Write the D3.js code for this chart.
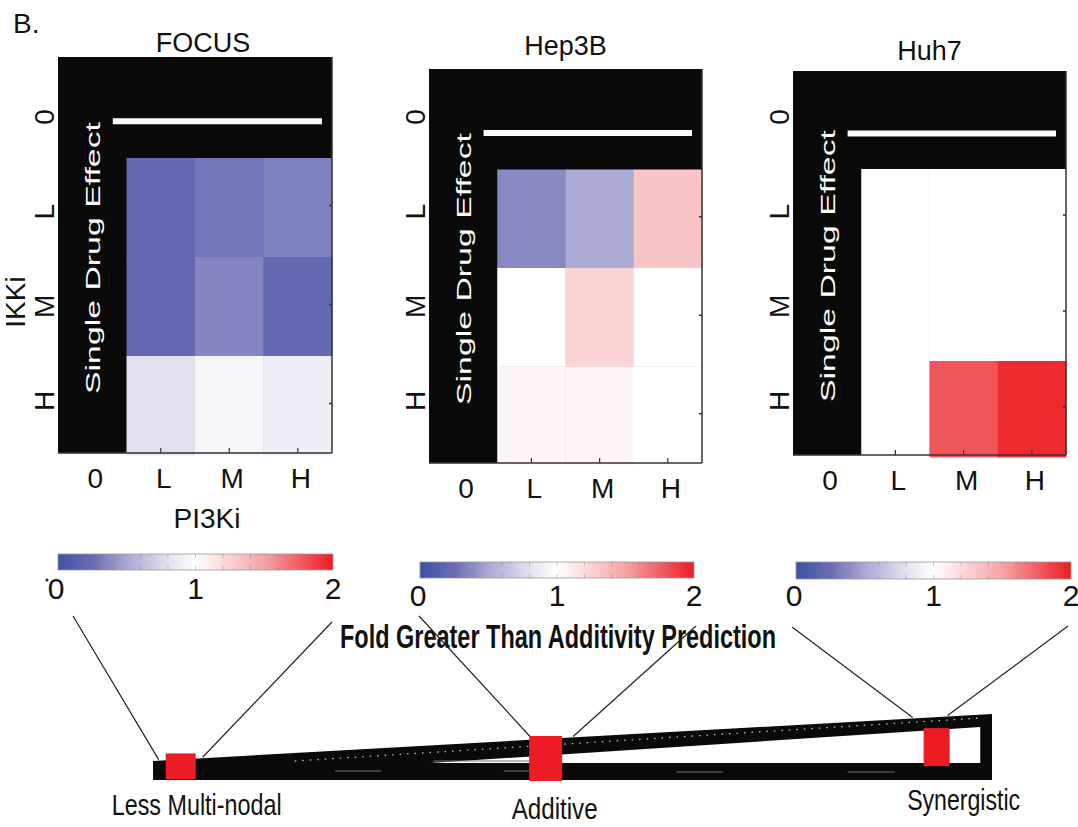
<!DOCTYPE html>
<html><head><meta charset="utf-8">
<script src="https://cdn.jsdelivr.net/npm/d3@7"></script>
<style>
body{margin:0;background:#fff}
svg{display:block}
text{font-family:"Liberation Sans Narrow","Liberation Sans",Arial,sans-serif;fill:#111}
</style></head><body>
<svg id="chart" width="1078" height="827"></svg>
<script>
// ---------------- data ----------------
const cellLines = ["FOCUS", "Hep3B", "Huh7"];
const doseLevels = ["0", "L", "M", "H"];
const comboDoses = ["L", "M", "H"];
// fold greater than additivity prediction; rows = IKKi dose (L,M,H), cols = PI3Ki dose (L,M,H)
const focusValues = [[0.21, 0.29, 0.33], [0.21, 0.36, 0.21], [0.80, 0.94, 0.89]];
const hep3bValues = [[0.37, 0.52, 1.32], [1.00, 1.24, 1.00], [1.05, 1.05, 1.00]];
const huh7Values  = [[1.00, 1.00, 1.00], [1.00, 1.00, 1.00], [1.00, 1.79, 1.95]];
const colorStops = [0, 0.25, 0.5, 0.75, 1, 1.5, 2];
const colorStopColors = ["#3d52a3", "#6a6cb3", "#a8a7d3", "#d9d8ec", "#ffffff", "#f5a3a6", "#ed1c24"];
const colorbarTicks = [0, 1, 2];
const colorbarMinorTicks = [0.2, 0.4, 0.6, 0.8, 1.0, 1.2, 1.4, 1.6, 1.8];
const spectrumLabels = ["Less Multi-nodal", "Additive", "Synergistic"];
const spectrumPosition = [0.033, 0.468, 0.934];
const xAxisTitle = "PI3Ki";
const yAxisTitle = "IKKi";
const singleDrugLabel = "Single Drug Effect";
const colorbarTitle = "Fold Greater Than Additivity Prediction";
const panelLabel = "B.";

const panelValues = [focusValues, hep3bValues, huh7Values];

// ---------------- layout ----------------
const panelLayout = [
  {x0: 58,  x1: 332,  y0: 57, y1: 453, titleBase: 52},
  {x0: 429, x1: 702,  y0: 69, y1: 463, titleBase: 55},
  {x0: 793, x1: 1066, y0: 71, y1: 455, titleBase: 60}
];
const cbLayout = [
  {x0: 58,  x1: 333,  y0: 554, y1: 570, labBase: 599, lStart: [73, 616],  rStart: [332, 622]},
  {x0: 420, x1: 694,  y0: 562, y1: 578, labBase: 606, lStart: [419, 616], rStart: [696, 626]},
  {x0: 796, x1: 1071, y0: 562, y1: 579, labBase: 606, lStart: [792, 627], rStart: [1068, 626]}
];
const markerLayout = [
  {w: 30, dy: -6, h: 26, lEnd: -7,  rEnd: 7,  labDx: 16, labBase: 815, labLen: 170},
  {w: 33, dy: -3, h: 45, lEnd: 3,   rEnd: 11, labDx: 9,  labBase: 819, labLen: 86},
  {w: 26, dy: 11, h: 38, lEnd: -11, rEnd: -2, labDx: 27, labBase: 810, labLen: 113}
];

const svg = d3.select("#chart");
const color = d3.scaleLinear().domain(colorStops).range(colorStopColors).clamp(true);
const yLabelScale = d3.scalePoint().domain(doseLevels).range([117, 401]);
const BLACK = "#0a0a0a";

svg.append("text").attr("x", 13).attr("y", 33).attr("font-size", 28).text(panelLabel);

panelLayout.forEach((L, i) => {
  const g = svg.append("g");
  const x = d3.scaleBand().domain(doseLevels).range([L.x0, L.x1]);
  const y = d3.scaleBand().domain(doseLevels).range([L.y0, L.y1]);
  const bw = x.bandwidth(), bh = y.bandwidth();

  g.append("rect").attr("x", L.x0).attr("y", L.y0)
    .attr("width", L.x1 - L.x0).attr("height", L.y1 - L.y0).attr("fill", BLACK);

  const cells = [];
  panelValues[i].forEach((row, r) => row.forEach((v, c) =>
    cells.push({row: comboDoses[r], col: comboDoses[c], v})));
  g.selectAll("rect.cell").data(cells).join("rect").attr("class", "cell")
    .attr("x", d => x(d.col)).attr("y", d => y(d.row) + 2)
    .attr("width", bw + 0.4).attr("height", bh + 0.4)
    .attr("fill", d => color(d.v));

  // single drug effect white bar
  g.append("line")
    .attr("x1", x("0") + bw * 0.8).attr("x2", L.x1 - 10)
    .attr("y1", y("0") + bh * 0.65).attr("y2", y("0") + bh * 0.65)
    .attr("stroke", "#fff").attr("stroke-width", 6);

  g.append("text")
    .attr("transform", `translate(${x("0") + bw / 2},${(L.y0 + L.y1) / 2 + 3}) rotate(-90)`)
    .attr("text-anchor", "middle").attr("dominant-baseline", "central")
    .attr("font-family", "DejaVu Sans").attr("font-size", 21)
    .attr("textLength", 272).attr("lengthAdjust", "spacingAndGlyphs")
    .style("fill", "#fff").text(singleDrugLabel);

  // axes lines
  g.append("line").attr("x1", L.x0).attr("x2", L.x1).attr("y1", L.y1).attr("y2", L.y1)
    .attr("stroke", "#333").attr("stroke-width", 1.5);
  g.append("line").attr("x1", L.x1).attr("x2", L.x1).attr("y1", L.y0).attr("y2", L.y1)
    .attr("stroke", "#333").attr("stroke-width", 1.5);
  g.selectAll("line.bt").data(comboDoses).join("line").attr("class", "bt")
    .attr("x1", d => x(d) + bw / 2).attr("x2", d => x(d) + bw / 2)
    .attr("y1", L.y1).attr("y2", L.y1 - 5).attr("stroke", "#333").attr("stroke-width", 1.2);
  g.selectAll("line.rt").data(comboDoses).join("line").attr("class", "rt")
    .attr("x1", L.x1).attr("x2", L.x1 - 3)
    .attr("y1", d => y(d) + bh / 2).attr("y2", d => y(d) + bh / 2)
    .attr("stroke", "#333").attr("stroke-width", 1.5);

  // tick labels
  g.selectAll("text.xl").data(doseLevels).join("text").attr("class", "xl")
    .attr("x", d => x(d) + bw / 2 + 3).attr("y", L.y1 + 35)
    .attr("text-anchor", "middle").attr("font-size", 28).text(d => d);
  g.selectAll("text.yl").data(doseLevels).join("text").attr("class", "yl")
    .attr("transform", d => `translate(${L.x0 - 4},${yLabelScale(d)}) rotate(-90)`)
    .attr("text-anchor", "middle").attr("font-size", 28).text(d => d);

  g.append("text").attr("x", (L.x0 + L.x1) / 2 + (i === 0 ? 8 : 0)).attr("y", L.titleBase)
    .attr("text-anchor", "middle").attr("font-size", 27).text(cellLines[i]);
});

// axis titles (first panel)
svg.append("text").attr("x", 207).attr("y", 528).attr("text-anchor", "middle")
  .attr("font-size", 28).text(xAxisTitle);
svg.append("text").attr("transform", "translate(25,302) rotate(-90)")
  .attr("text-anchor", "middle").attr("font-size", 28).text(yAxisTitle);

// ---------------- colorbars ----------------
const defs = svg.append("defs");
const grad = defs.append("linearGradient").attr("id", "cbgrad");
d3.range(0, 2.0001, 0.05).forEach(v =>
  grad.append("stop").attr("offset", (v / 2 * 100) + "%").attr("stop-color", color(v)));

cbLayout.forEach(C => {
  const cx = d3.scaleLinear().domain([0, 2]).range([C.x0, C.x1]);
  const g = svg.append("g");
  g.append("rect").attr("x", C.x0).attr("y", C.y0).attr("width", C.x1 - C.x0)
    .attr("height", C.y1 - C.y0).attr("fill", "url(#cbgrad)")
    .attr("stroke", "#999").attr("stroke-width", 0.8);
  g.selectAll("line.mt").data(colorbarMinorTicks).join("line")
    .attr("x1", d => cx(d)).attr("x2", d => cx(d)).attr("y1", C.y0).attr("y2", C.y0 + 4)
    .attr("stroke", "#888").attr("stroke-opacity", 0.6).attr("stroke-width", 0.8);
  g.selectAll("line.mb").data(colorbarMinorTicks).join("line")
    .attr("x1", d => cx(d)).attr("x2", d => cx(d)).attr("y1", C.y1).attr("y2", C.y1 - 4)
    .attr("stroke", "#888").attr("stroke-opacity", 0.6).attr("stroke-width", 0.8);
  g.selectAll("text").data(colorbarTicks).join("text")
    .attr("x", d => cx(d) - (d === 0 ? 2 : 0)).attr("y", C.labBase)
    .attr("text-anchor", "middle").attr("font-size", 30).text(d => d);
});
svg.append("circle").attr("cx", 47).attr("cy", 580).attr("r", 1.5).attr("fill", "#222");

svg.append("text").attr("x", 558).attr("y", 648).attr("text-anchor", "middle")
  .attr("font-size", 33).attr("font-weight", "bold")
  .attr("textLength", 436).attr("lengthAdjust", "spacingAndGlyphs")
  .text(colorbarTitle);

// ---------------- spectrum wedge ----------------
const sx = d3.scaleLinear().domain([0, 1]).range([153, 992]);
const topY = d3.scaleLinear().domain([0, 1]).range([761, 714]);
const bottomY = 780;
const wg = svg.append("g");
wg.append("path").attr("fill", BLACK).attr("d", d3.line()([
  [sx(0), topY(0)], [sx(1), topY(1)], [sx(1), bottomY], [sx(0), bottomY]]));
wg.append("path").attr("fill", "#fff").attr("d", d3.line()([
  [sx(0.33), 763], [sx(0.986), 727], [sx(0.986), 763]]));
wg.append("line").attr("x1", sx(0.169)).attr("y1", 761).attr("x2", sx(0.986)).attr("y2", 718)
  .attr("stroke", "#fff").attr("stroke-width", 1.3).attr("stroke-dasharray", "1.5,6").attr("opacity", 0.75);
[[0.217, 0.272, 771], [0.418, 0.449, 771], [0.624, 0.679, 772], [0.828, 0.884, 772], [0.334, 0.449, 761]]
  .forEach(s => wg.append("line").attr("x1", sx(s[0])).attr("x2", sx(s[1]))
    .attr("y1", s[2]).attr("y2", s[2]).attr("stroke", "#777").attr("stroke-width", 1));

spectrumPosition.forEach((p, i) => {
  const M = markerLayout[i], C = cbLayout[i];
  const cx = sx(p), x0 = cx - M.w / 2, x1 = cx + M.w / 2;
  const yTop = topY(p) + M.dy;
  const lx = x0 + M.lEnd, rx = x1 + M.rEnd;
  svg.append("line").attr("x1", C.lStart[0]).attr("y1", C.lStart[1])
    .attr("x2", lx).attr("y2", topY(sx.invert(lx)) - 1)
    .attr("stroke", "#222").attr("stroke-width", 1.2);
  svg.append("line").attr("x1", C.rStart[0]).attr("y1", C.rStart[1])
    .attr("x2", rx).attr("y2", topY(sx.invert(rx)) - 1)
    .attr("stroke", "#222").attr("stroke-width", 1.2);
  svg.append("rect").attr("x", x0).attr("y", yTop).attr("width", M.w).attr("height", M.h)
    .attr("fill", "#ed1c24");
  svg.append("text").attr("x", cx + M.labDx).attr("y", M.labBase).attr("text-anchor", "middle")
    .attr("font-size", 30).attr("textLength", M.labLen).attr("lengthAdjust", "spacingAndGlyphs")
    .text(spectrumLabels[i]);
});
</script>
</body></html>
